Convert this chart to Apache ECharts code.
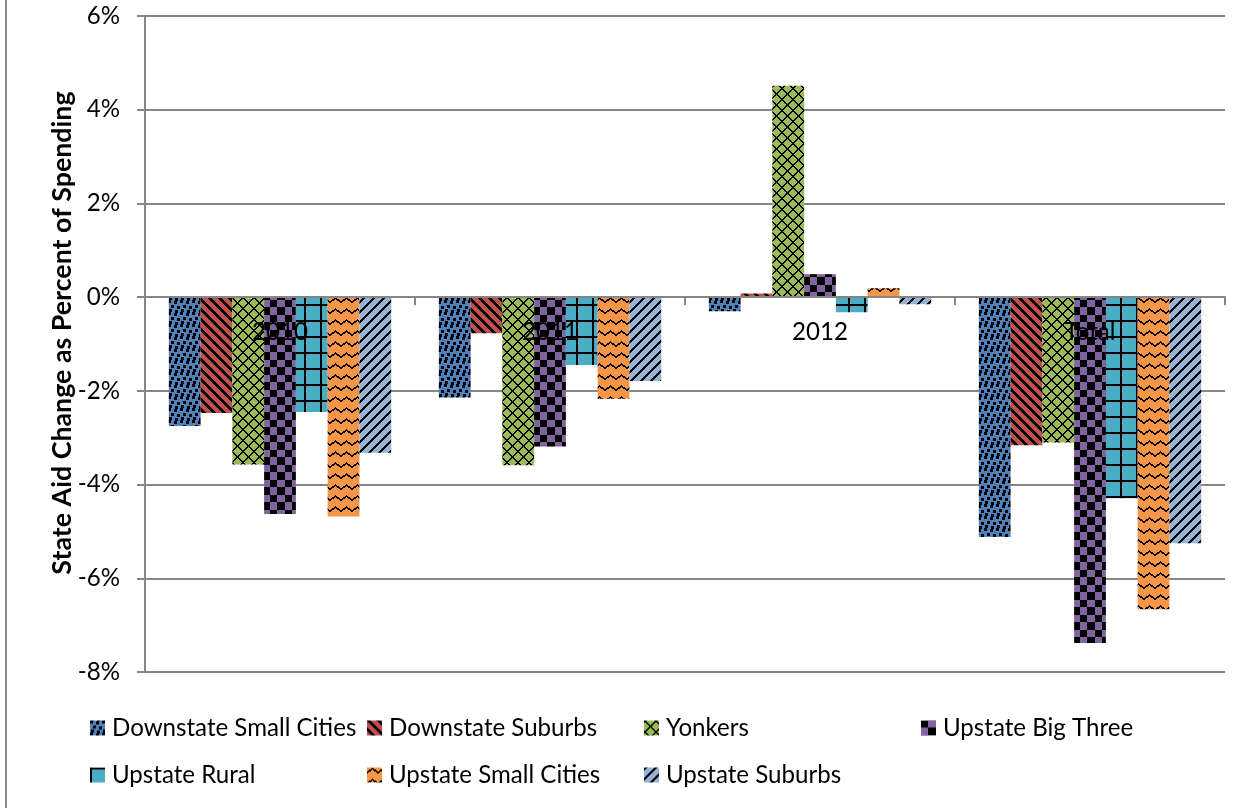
<!DOCTYPE html>
<html>
<head>
<meta charset="utf-8">
<script src="https://cdn.jsdelivr.net/npm/echarts@6/dist/echarts.min.js"></script>
<style>html,body{margin:0;padding:0;background:#fff}#c{width:1251px;height:808px}</style>
</head>
<body>
<div id="c"></div>
<script>
// ---------- DATA ----------
const categories = ['2010', '2011', '2012', 'Total'];
const seriesNames = ['Downstate Small Cities', 'Downstate Suburbs', 'Yonkers', 'Upstate Big Three',
                     'Upstate Rural', 'Upstate Small Cities', 'Upstate Suburbs'];
const downstateSmallCities = [-2.75, -2.14, -0.30, -5.12];
const downstateSuburbs     = [-2.47, -0.77,  0.08, -3.16];
const yonkers              = [-3.57, -3.59,  4.51, -3.10];
const upstateBigThree      = [-4.63, -3.19,  0.49, -7.38];
const upstateRural         = [-2.45, -1.45, -0.32, -4.29];
const upstateSmallCities   = [-4.68, -2.17,  0.19, -6.66];
const upstateSuburbs       = [-3.32, -1.79, -0.15, -5.25];
const yTickLabels = ['-8%', '-6%', '-4%', '-2%', '0%', '2%', '4%', '6%'];
const yTitle = 'State Aid Change as Percent of Spending';

const seriesValues = [downstateSmallCities, downstateSuburbs, yonkers, upstateBigThree,
                      upstateRural, upstateSmallCities, upstateSuburbs];

// ---------- STYLES ----------
const FONT = 'Lato';
function fitSize(text, weight, target) {
  const ctx = document.createElement('canvas').getContext('2d');
  ctx.font = weight + ' 100px ' + FONT;
  return 100 * target / ctx.measureText(text).width;
}
const FS = Math.round(fitSize('Downstate Small Cities', 'normal', 244) * 10) / 10;
const TFS = Math.round(fitSize(yTitle, 'bold', 484) * 10) / 10;
const LH = Math.round(FS);

function tile(w, h, bg, isBlack) {
  const c = document.createElement('canvas');
  c.width = w; c.height = h;
  const ctx = c.getContext('2d');
  ctx.fillStyle = bg; ctx.fillRect(0, 0, w, h);
  ctx.fillStyle = '#000';
  for (let y = 0; y < h; y++) for (let x = 0; x < w; x++) {
    if (isBlack(x, y)) ctx.fillRect(x, y, 1, 1);
  }
  return { image: c, repeat: 'repeat' };
}
const mod = (a, n) => ((a % n) + n) % n;
const confetti = [[0, 0], [6, 1], [3, 5], [9, 6], [1, 9], [7, 10]];
const patterns = [
  // blue: confetti of 3px squares
  tile(12, 12, '#4F81BD', (x, y) => confetti.some(b => mod(x - b[0], 12) < 3 && mod(y - b[1], 12) < 3)),
  // red: wide downward diagonal
  tile(10, 10, '#C0504D', (x, y) => mod(x - y, 10) < 4),
  // green: outlined diamonds
  tile(11, 11, '#9BBB59', (x, y) => mod(x - y, 11) < 2 || mod(x + y, 11) < 2),
  // purple: large checker board
  tile(15, 15, '#8064A2', (x, y) => ((x < 7 ? 0 : 1) + (y < 7 ? 0 : 1)) % 2 === 0),
  // teal: large grid
  tile(16, 16, '#4BACC6', (x, y) => x < 2 || y < 2),
  // orange: zig zag
  tile(11, 11, '#F79646', (x, y) => { const yl = Math.round(4 * Math.abs(x - 5) / 5); return y === yl || y === yl + 1; }),
  // light blue: wide upward diagonal
  tile(10, 10, '#95B3D7', (x, y) => mod(x + y, 10) < 3)
];

const axisGray = '#868686';
const legendCols = [[0, 4], [1, 5], [2, 6], [3]];
const yMin = -8, yMax = 6;
const gridTop = 16, gridBottom = 136, chartH = 808;
const zeroOffset = -(chartH - gridTop - gridBottom) * (0 - yMin) / (yMax - yMin);

const chart = echarts.init(document.getElementById('c'), null, { renderer: 'canvas' });
chart.setOption({
  animation: false,
  backgroundColor: '#fff',
  textStyle: { fontFamily: FONT },
  grid: { left: 145, right: 26, top: gridTop, bottom: gridBottom, containLabel: false, outerBoundsMode: 'none' },
  xAxis: {
    type: 'category',
    data: categories,
    z: 10,
    offset: zeroOffset,
    axisLine: { onZero: false, lineStyle: { color: axisGray, width: 2 } },
    axisTick: { show: true, length: 8, lineStyle: { color: axisGray, width: 2 } },
    axisLabel: { margin: 23, color: '#000', fontSize: FS, fontFamily: FONT },
    splitLine: { show: false }
  },
  yAxis: {
    type: 'value',
    min: yMin, max: yMax, interval: 2,
    axisLine: { show: true, lineStyle: { color: axisGray, width: 2 } },
    axisTick: { show: true, length: 8, lineStyle: { color: axisGray, width: 2 } },
    axisLabel: {
      margin: 25, color: '#000', fontSize: FS, fontFamily: FONT,
      formatter: v => yTickLabels[Math.round((v - yMin) / 2)]
    },
    splitLine: { lineStyle: { color: axisGray, width: 2 } }
  },
  legend: legendCols.map((idx, i) => ({
    orient: 'vertical',
    left: 85 + 277 * i,
    top: 711,
    itemWidth: 15, itemHeight: 15,
    itemGap: 47 - LH,
    icon: 'rect',
    selectedMode: false,
    data: idx.map(k => seriesNames[k]),
    textStyle: { fontSize: FS, fontFamily: FONT, color: '#000', lineHeight: LH, padding: [0, 0, 0, 2] }
  })),
  series: seriesNames.map((name, i) => ({
    name: name,
    type: 'bar',
    data: seriesValues[i],
    barGap: '0%',
    barCategoryGap: '17.65%',
    itemStyle: { color: patterns[i] },
    emphasis: { disabled: true }
  })),
  graphic: [
    {
      type: 'text', x: 62, y: 333, rotation: Math.PI / 2,
      style: { text: yTitle, fontSize: TFS, fontWeight: 'bold', fontFamily: FONT, fill: '#000',
               align: 'center', verticalAlign: 'middle' }
    },
    {
      type: 'line', shape: { x1: 6, y1: 0, x2: 6, y2: 808 },
      style: { stroke: axisGray, lineWidth: 2 }
    }
  ]
});
</script>
</body>
</html>
